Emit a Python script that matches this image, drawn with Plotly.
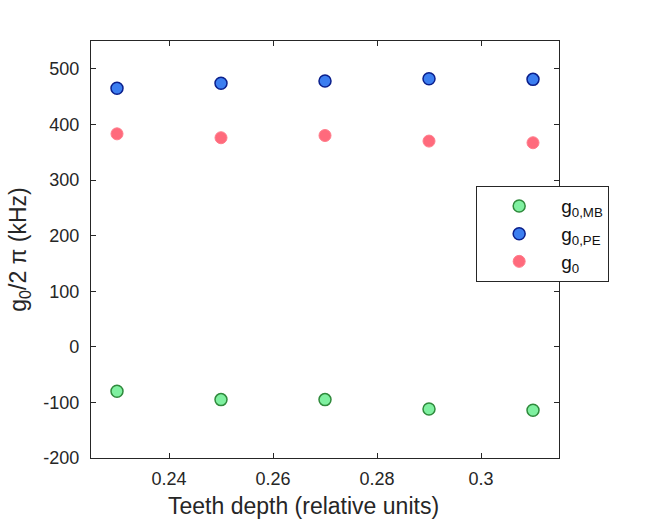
import plotly.graph_objects as go

depth = [0.23, 0.25, 0.27, 0.29, 0.31]
g0_mb = [-80, -95, -95, -112, -114]
g0_pe = [465, 474, 478, 482, 481]
g0 = [383, 376, 380, 370, 367]
y_ticks = [-200, -100, 0, 100, 200, 300, 400, 500]
x_ticks = [0.24, 0.26, 0.28, 0.30]
x_ticklabels = ["0.24", "0.26", "0.28", "0.3"]

FONT = "Liberation Sans, Arial"
fig = go.Figure()
fig.add_trace(go.Scatter(x=depth, y=g0_mb, mode="markers", name="g<sub>0,MB</sub>",
    marker=dict(size=12, color="#7ff0a0", line=dict(color="#2f8a3c", width=1.5))))
fig.add_trace(go.Scatter(x=depth, y=g0_pe, mode="markers", name="g<sub>0,PE</sub>",
    marker=dict(size=12, color="#3c7ef0", line=dict(color="#0a1f8c", width=1.5))))
fig.add_trace(go.Scatter(x=depth, y=g0, mode="markers", name="g<sub>0</sub>",
    marker=dict(size=12, color="#ff5a6e", opacity=0.9, line=dict(color="#ff7080", width=1))))

axis_common = dict(showline=True, linecolor="#262626", linewidth=1.2, mirror="ticks",
                   ticks="inside", ticklen=5, tickcolor="#262626", showgrid=False, zeroline=False,
                   tickfont=dict(family=FONT, size=18, color="#262626"))
fig.update_xaxes(range=[0.225, 0.315], tickvals=x_ticks,
                 ticktext=x_ticklabels, ticklabelstandoff=4,
                 **axis_common)
fig.update_yaxes(range=[-200, 550], tickvals=y_ticks,
                 ticktext=[str(v) for v in y_ticks],
                 ticklabelstandoff=7,
                 title=dict(text="g<sub>0</sub>/2 π (kHz)", standoff=10,
                            font=dict(family=FONT, size=23, color="#262626")),
                 **axis_common)
fig.add_annotation(text="Teeth depth (relative units)", xref="paper", yref="paper",
                   x=0.453, y=-0.115, xanchor="center", yanchor="middle", showarrow=False,
                   font=dict(family=FONT, size=23, color="#262626"))
fig.update_layout(width=650, height=532, margin=dict(l=91, r=91, t=41, b=74),
                  plot_bgcolor="white", paper_bgcolor="white",
                  legend=dict(x=0.823, y=0.652, xanchor="left", yanchor="top",
                              bgcolor="white", bordercolor="#262626", borderwidth=1,
                              font=dict(family=FONT, size=19, color="#111111"),
                              itemwidth=74, tracegroupgap=4),
                  showlegend=True)
fig.write_html("out.html")
